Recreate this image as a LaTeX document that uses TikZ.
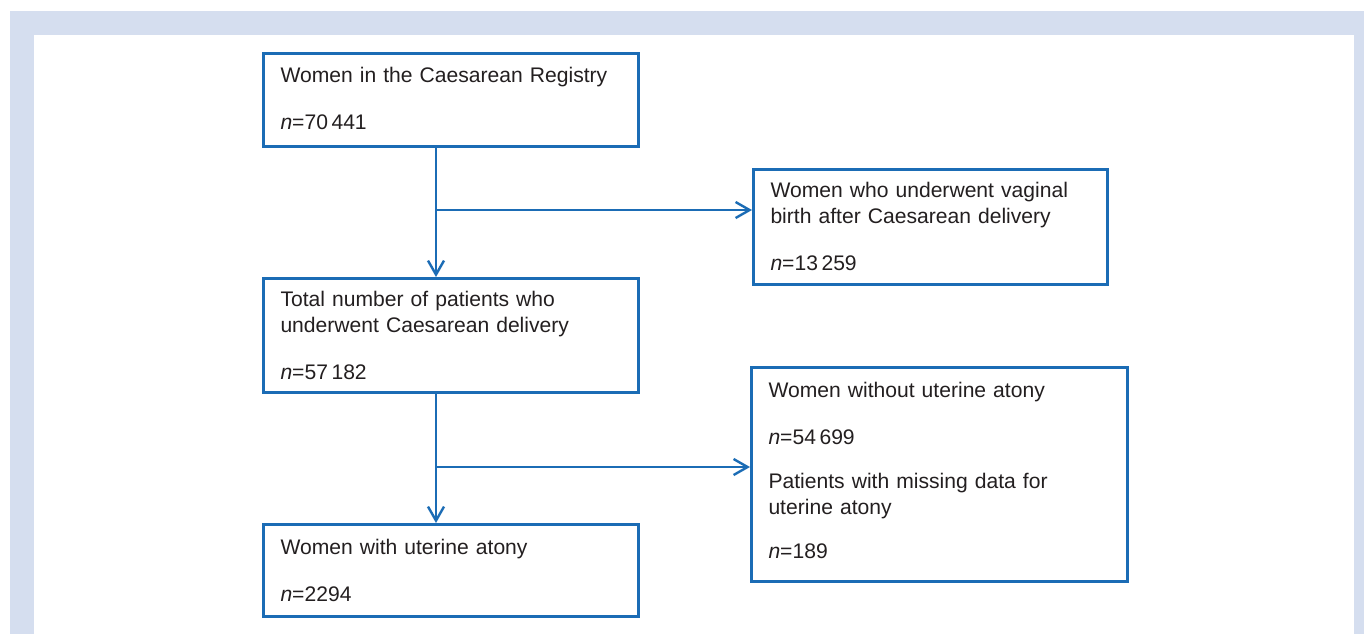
\documentclass[tikz,border=0pt]{standalone}
\usepackage{fontspec}
\setmainfont{Liberation Sans}
\usetikzlibrary{positioning,arrows.meta,calc}
\definecolor{edge}{HTML}{1B6CB5}
\definecolor{frame}{HTML}{D5DEEF}
\definecolor{txt}{HTML}{231F20}
\newcommand\lift[1]{\rule[-#1]{0pt}{#1}}
\tikzset{
  >={Straight Barb[length=7pt,width=8pt]},
  box/.style={draw=edge, line width=1.5pt, rectangle, align=left, anchor=north west,
              font=\fontsize{10.55pt}{13pt}\selectfont, text=txt, inner xsep=8.5pt, inner ysep=0pt},
  l/.style={->, line width=1.2pt, draw=edge},
}
\begin{document}
\begin{tikzpicture}[x=0.5pt, y=-0.5pt]
  \useasboundingbox (0,0) rectangle (1364,634);
  \fill[frame] (10,11) rectangle (1364,634);
  \fill[white] (34,35) rectangle (1354,634);

  \node[box, text width=170.5pt, minimum height=46.5pt] (reg) at (262,52)
    {Women in the Caesarean Registry\\[10.5pt]\textit{n}=70\,441\lift{2pt}};
  \node[box, text width=160pt, minimum height=57.5pt] (vbac) at (752,168)
    {Women who underwent vaginal\\birth after Caesarean delivery\\[10.5pt]\textit{n}=13\,259\lift{1pt}};
  \node[box, text width=170.5pt, minimum height=57pt, below=64.5pt of reg] (cs)
    {Total number of patients who\\underwent Caesarean delivery\\[10.5pt]\textit{n}=57\,182};
  \node[box, text width=171pt, minimum height=107pt] (noat) at (750,366)
    {Women without uterine atony\\[10.5pt]\textit{n}=54\,699\\[9pt]Patients with missing data for\\uterine atony\\[9pt]\textit{n}=189\lift{4pt}};
  \node[box, text width=170.5pt, minimum height=46pt, below=64.5pt of cs] (atony)
    {Women with uterine atony\\[10.5pt]\textit{n}=2294};

  \coordinate (j1) at ($(reg.south west)+(87pt,-31pt)$);
  \coordinate (j2) at ($(cs.south west)+(87pt,-36.5pt)$);
  \draw[l] (j1 |- reg.south) -- (j1 |- cs.north);
  \draw[l] (j1) -- (j1 -| vbac.west);
  \draw[l] (j2 |- cs.south) -- (j2 |- atony.north);
  \draw[l] (j2) -- (j2 -| noat.west);
\end{tikzpicture}
\end{document}
